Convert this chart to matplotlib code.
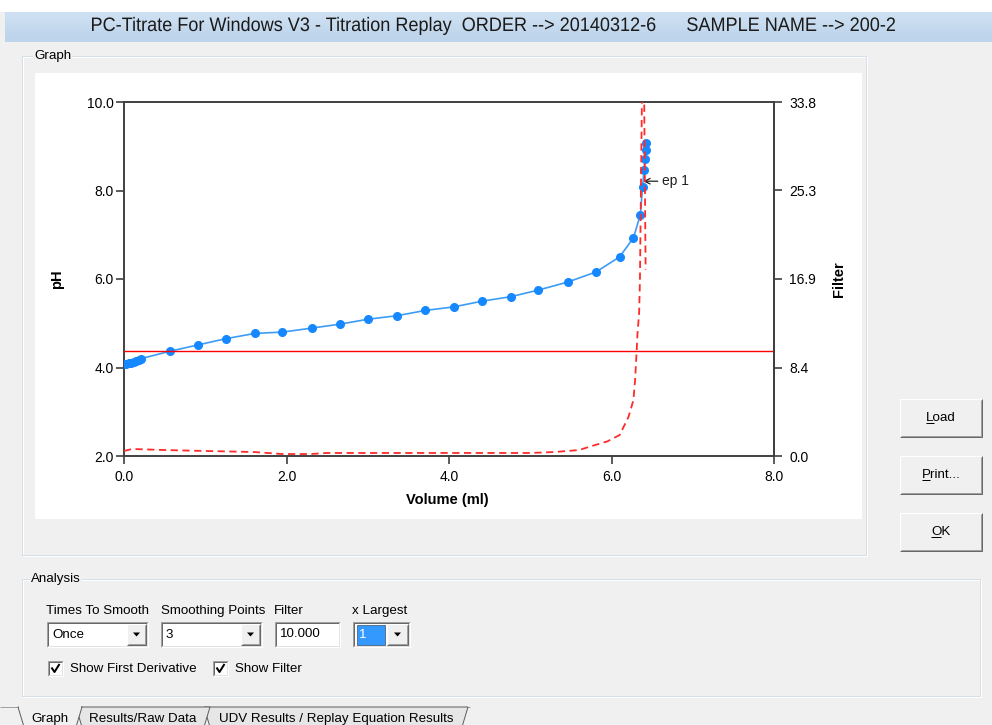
import matplotlib

matplotlib.use("Agg")
import matplotlib.pyplot as plt
from matplotlib import font_manager
from matplotlib.font_manager import FontProperties
from matplotlib.patches import Rectangle, Polygon, PathPatch
from matplotlib.textpath import TextPath
from matplotlib.transforms import Affine2D, Bbox

# ---- chart data ----
volume_ml = [0.00, 0.03, 0.06, 0.09, 0.12, 0.15, 0.18, 0.21, 0.57, 0.91, 1.25, 1.61,
             1.95, 2.31, 2.66, 3.00, 3.36, 3.71, 4.06, 4.41, 4.76, 5.10, 5.46, 5.81,
             6.10, 6.27, 6.355, 6.383, 6.40, 6.415, 6.42, 6.43]
ph_values = [4.08, 4.09, 4.10, 4.11, 4.13, 4.15, 4.17, 4.20, 4.37, 4.51, 4.65, 4.77,
             4.80, 4.89, 4.98, 5.09, 5.17, 5.29, 5.37, 5.50, 5.60, 5.75, 5.93, 6.16,
             6.50, 6.93, 7.45, 8.09, 8.46, 8.71, 8.92, 9.07]

# first derivative (right "Filter" axis)
deriv_volume = [0.00, 0.10, 0.50, 1.00, 1.60, 1.95, 2.30, 2.50, 3.50, 4.50, 5.00, 5.30,
                5.60, 5.77, 5.95, 6.10, 6.21, 6.27, 6.29, 6.31, 6.32, 6.34, 6.35, 6.39, 6.42]
deriv_values = [0.48, 0.67, 0.57, 0.48, 0.38, 0.19, 0.19, 0.29, 0.29, 0.29, 0.29, 0.38,
                0.57, 0.98, 1.40, 2.00, 3.75, 5.35, 7.26, 10.05, 11.7, 13.65, 16.8, 45.0, 17.8]

filter_level = 10.0
ep_volume, ep_ph = 6.39, 8.21

x_ticks = [0, 2, 4, 6, 8]
ph_ticks = [2, 4, 6, 8, 10]
filter_ticks = [0.0, 8.45, 16.9, 25.35, 33.8]
filter_tick_labels = ["0.0", "8.4", "16.9", "25.3", "33.8"]

TITLE = ("PC-Titrate For Windows V3 - Titration Replay  ORDER --> 20140312-6"
         "      SAMPLE NAME --> 200-2")
analysis_labels = ["Times To Smooth", "Smoothing Points", "Filter", "x Largest"]
analysis_values = ["Once", "3", "10.000", "1"]
checkbox_labels = ["Show First Derivative", "Show Filter"]
button_labels = ["Load", "Print...", "OK"]
tab_labels = ["Graph", "Results/Raw Data", "UDV Results / Replay Equation Results"]

avail = {f.name for f in font_manager.fontManager.ttflist}
UI_FONT = "Liberation Sans" if "Liberation Sans" in avail else "DejaVu Sans"
plt.rcParams["font.family"] = [UI_FONT, "DejaVu Sans"]
UI_SIZE = 9.6

W, H = 992, 725
fig = plt.figure(figsize=(W / 100, H / 100), dpi=100, facecolor="#F0F0F0")
bg = fig.add_axes([0, 0, 1, 1])
bg.set_xlim(0, W)
bg.set_ylim(H, 0)
bg.axis("off")

PX = 0.72  # one pixel in points


def rect(x0, y0, x1, y1, fc="none", ec="none", lw=1, z=1):
    p = Rectangle((x0, y0), x1 - x0, y1 - y0, facecolor=fc, edgecolor=ec,
                  linewidth=lw * PX, zorder=z)
    bg.add_patch(p)
    return p


def seg(xs, ys, c, lw=1, z=3):
    bg.plot(xs, ys, color=c, lw=lw * PX, zorder=z, solid_capstyle="butt")


def sunken(x0, y0, x1, y1):
    rect(x0, y0, x1, y1, fc="white")
    seg([x0, x0, x1], [y1, y0, y0], "#A0A0A0")
    seg([x0 + 1, x0 + 1, x1 - 1], [y1 - 1, y0 + 1, y0 + 1], "#696969")
    seg([x0, x1, x1], [y1, y1, y0], "#FFFFFF")
    seg([x0 + 1, x1 - 1, x1 - 1], [y1 - 1, y1 - 1, y0 + 1], "#E3E3E3")


def raised(x0, y0, x1, y1, fc="#F0F0F0"):
    rect(x0, y0, x1, y1, fc=fc, z=2)
    seg([x0, x0, x1], [y1, y0, y0], "#FFFFFF")
    seg([x0, x1, x1], [y1, y1, y0], "#696969")
    seg([x0 + 1, x1 - 1, x1 - 1], [y1 - 1, y1 - 1, y0 + 1], "#A0A0A0")


def arrow_down(cx, cy):
    bg.add_patch(Polygon([[cx - 3.5, cy - 2], [cx + 3.5, cy - 2], [cx, cy + 2]],
                         closed=True, facecolor="black", edgecolor="none", zorder=5))


def groupbox(x0, y0, x1, y1, label, lx):
    rect(x0 + 1, y0 + 1, x1 + 1, y1 + 1, ec="white")
    rect(x0, y0, x1, y1, ec="#D5DFE5")
    bg.text(lx, y0, label, fontsize=UI_SIZE, va="center", ha="left", zorder=6,
            bbox=dict(facecolor="#F0F0F0", edgecolor="none", pad=1))


# window chrome
rect(0, 0, W, 12, fc="white")
grad = [[[0.81, 0.88, 0.95]], [[0.74, 0.83, 0.92]]]
bg.imshow(grad, extent=(5, W, 42, 12), aspect="auto", zorder=1, interpolation="bicubic")
bg.set_xlim(0, W)
bg.set_ylim(H, 0)

# title drawn as a condensed text path (Segoe-like narrow look)
tp = TextPath((0, 0), TITLE, size=19.5, prop=FontProperties(family=UI_FONT))
ext = tp.get_extents()
sx = 803 / ext.width
tr = Affine2D().translate(-ext.x0, 0).scale(sx, -1).translate(92, 31)
bg.add_patch(PathPatch(tr.transform_path(tp), facecolor="#1A1A1A", edgecolor="none",
                       lw=0, zorder=4))

# Graph group and white plot panel
groupbox(22, 56, 866, 555, "Graph", 34)
rect(35, 73, 862, 519, fc="white", z=2)

# buttons
for label, (y0, y1) in zip(button_labels, [(399, 437), (456, 494), (513, 551)]):
    raised(900, y0, 982, y1)
    bg.text(941, (y0 + y1) / 2, label, fontsize=UI_SIZE, ha="center", va="center", zorder=5)
fig.canvas.draw()
inv = bg.transData.inverted()
for t in bg.texts:
    if t.get_text() in button_labels:
        e = t.get_window_extent()
        (xa, ya), (xb, yb) = inv.transform([[e.x0, e.y0], [e.x1, e.y1]])
        first = 8 if t.get_text() != "OK" else 10
        seg([xa, xa + first], [ya - 1, ya - 1], "black", lw=1, z=6)

# Analysis group
groupbox(22, 579, 980, 696, "Analysis", 31)
for label, x in zip(analysis_labels, [46, 161, 274, 352]):
    bg.text(x, 611, label, fontsize=UI_SIZE, ha="left", va="center", zorder=5)

sunken(47, 622, 148, 647)
raised(127, 624, 146, 645)
arrow_down(136.5, 634.5)
bg.text(52, 635, analysis_values[0], fontsize=UI_SIZE, va="center", zorder=5)

sunken(161, 622, 262, 647)
raised(241, 624, 260, 645)
arrow_down(250.5, 634.5)
bg.text(166, 635, analysis_values[1], fontsize=UI_SIZE, va="center", zorder=5)

sunken(275, 622, 340, 647)
bg.text(280, 634, analysis_values[2], fontsize=UI_SIZE, va="center", zorder=5)

sunken(353, 622, 410, 647)
sel = rect(356.5, 624.5, 385, 644.5, fc="#3399FF", ec="#202020", lw=1, z=3)
sel.set_linestyle((0, (1, 1)))
raised(387, 624, 408, 645)
arrow_down(397.5, 634.5)
bg.text(359, 635, analysis_values[3], fontsize=UI_SIZE, va="center", color="white", zorder=5)

for label, x in zip(checkbox_labels, [48, 213]):
    sunken(x, 661, x + 15, 676)
    bg.plot([x + 3.5, x + 6.5, x + 11.5], [667.5, 672, 664], color="black",
            lw=2 * PX, zorder=6, solid_capstyle="butt")
    t = bg.text(x + 22, 668.5, label, fontsize=UI_SIZE, va="center", zorder=5)
    if label == "Show Filter":
        (cx0, cy0), (cx1, cy1) = bg.transData.transform([[x, 650], [302, 690]])
        t.set_clip_box(Bbox.from_extents(min(cx0, cx1), min(cy0, cy1),
                                         max(cx0, cx1), max(cy0, cy1)))
        t.set_clip_on(True)

# bottom tabs
seg([0, 470], [707, 707], "#A0A0A0", z=2)
tab_edges = [(18, 82), (76, 210), (204, 468)]
for i, (label, (xl, xr)) in enumerate(zip(tab_labels, tab_edges)):
    fc = "#F0F0F0" if i == 0 else "#E6E6E6"
    zz = 4 if i == 0 else 3 - i * 0.1
    bg.add_patch(Polygon([[xl, 707], [xr, 707], [xr - 6, 727], [xl + 6, 727]], closed=True,
                         facecolor=fc, edgecolor="#606060", linewidth=PX, zorder=zz))
    bg.text((xl + xr) / 2, 719, label, fontsize=UI_SIZE, ha="center", va="center",
            zorder=zz + 0.05)
seg([19, 81], [707, 707], "#F0F0F0", lw=2, z=4.02)

# ---- the titration graph ----
ax = fig.add_axes([124 / W, 1 - 456 / H, 650 / W, 354 / H])
ax.set_facecolor("white")
ax2 = ax.twinx()

ax.plot(volume_ml, ph_values, color="#3C9CF5", lw=1.2, marker="o", markersize=5.5,
        markerfacecolor="#1688FF", markeredgecolor="#1688FF", zorder=3)
ax2.axhline(filter_level, color="#FF0000", lw=1.0)
ax2.plot(deriv_volume, deriv_values, color="#FF2A2A", lw=1.3, linestyle=(0, (4, 2.5)))
ax.annotate("ep 1", xy=(ep_volume, ep_ph), xytext=(6.62, ep_ph), fontsize=10,
            va="center", ha="left", color="#202020",
            arrowprops=dict(arrowstyle="->", color="#202020", lw=0.9,
                            shrinkA=1, shrinkB=0))

ax.set_xlim(0, 8)
ax.set_ylim(2, 10)
ax2.set_ylim(0, 33.8)
ax.set_xticks(x_ticks)
ax.set_xticklabels([f"{v:.1f}" for v in x_ticks])
ax.set_yticks(ph_ticks)
ax.set_yticklabels([f"{v:.1f}" for v in ph_ticks])
ax2.set_yticks(filter_ticks)
ax2.set_yticklabels(filter_tick_labels)

spine_c = "#404040"
for s in ax.spines.values():
    s.set_color(spine_c)
    s.set_linewidth(1.4)
for name, s in ax2.spines.items():
    s.set_visible(name == "right")
    s.set_color(spine_c)
    s.set_linewidth(1.4)

ax.tick_params(axis="y", direction="out", length=6, width=1.2, color=spine_c,
               labelsize=10, pad=1.5)
ax.tick_params(axis="x", direction="out", length=6, width=1.2, color=spine_c,
               labelsize=10, pad=4)
ax2.tick_params(axis="y", direction="out", length=6, width=1.2, color=spine_c,
                labelsize=10, pad=5)

ax.set_xlabel("Volume (ml)", fontsize=10.5, fontweight="bold")
ax.set_ylabel("pH", fontsize=10.5, fontweight="bold")
ax2.set_ylabel("Filter", fontsize=10.5, fontweight="bold")
ax.xaxis.set_label_coords(0.498, -0.105)
ax.yaxis.set_label_coords(-0.092, 0.5)
ax2.yaxis.set_label_coords(1.089, 0.5)

fig.savefig("out.png", dpi=100, facecolor=fig.get_facecolor())
